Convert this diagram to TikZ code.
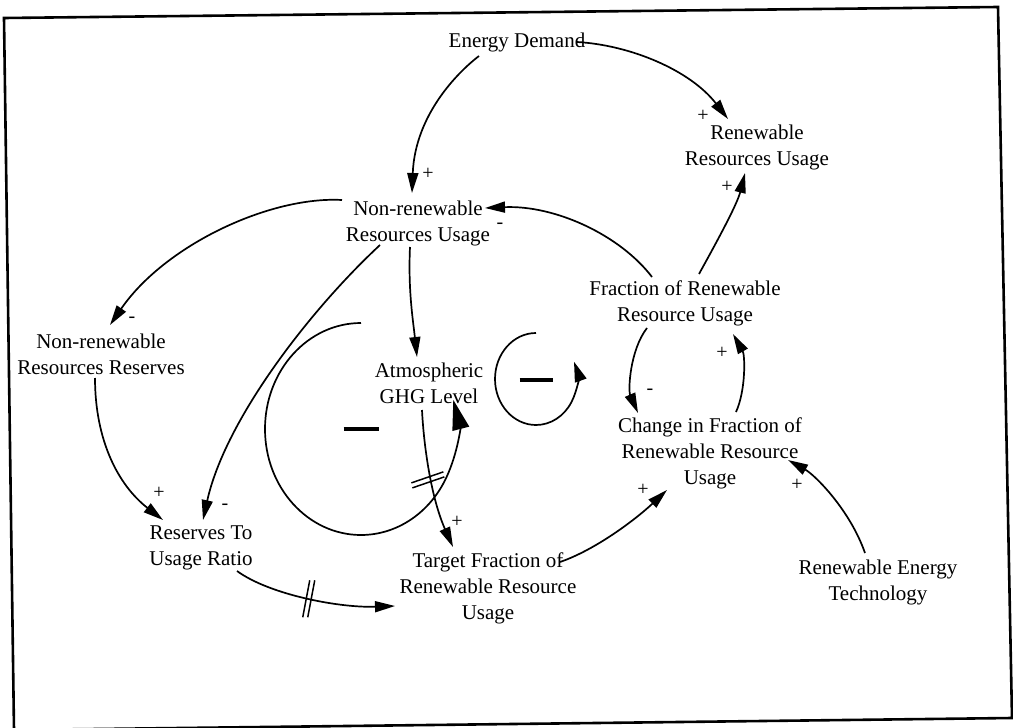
\documentclass[tikz,border=0pt]{standalone}
\usepackage{fontspec}
\setmainfont{Liberation Serif}
\usetikzlibrary{arrows.meta}

\begin{document}
\begin{tikzpicture}[x=1pt,y=-1pt,
  var/.style={align=center, font=\fontsize{21}{26}\selectfont, inner sep=1pt},
  pol/.style={font=\fontsize{20}{22}\selectfont, inner sep=0pt},
  link/.style={line width=1.7pt, -{Triangle[length=20pt,width=11pt]}},
  delaybar/.style={line width=1.5pt},
  loopline/.style={line width=1.7pt},
  loopsign/.style={inner sep=0pt}
]
\useasboundingbox (0,0) rectangle (1013,728);

% frame
\begin{scope}
  \clip (0,0) rectangle (1013,728);
  \draw[line width=2.6pt] (4,18) -- (998,7) -- (1012,718) -- (14,730) -- cycle;
\end{scope}

% variables
\node[var] (ed)  at (517,42)  {Energy Demand};
\node[var] (rru) at (757,147) {Renewable\\Resources Usage};
\node[var] (nru) at (418,223) {Non-renewable\\Resources Usage};
\node[var] (nrr) at (101,354) {Non-renewable\\Resources Reserves};
\node[var] (ghg) at (429,383) {Atmospheric\\GHG Level};
\node[var] (fru) at (685,303) {Fraction of Renewable\\Resource Usage};
\node[var] (cfr) at (710,453) {Change in Fraction of\\Renewable Resource\\Usage};
\node[var] (rtu) at (201,548) {Reserves To\\Usage Ratio};
\node[var] (tfr) at (488,588) {Target Fraction of\\Renewable Resource\\Usage};
\node[var] (ret) at (878,582) {Renewable Energy\\Technology};

% causal links
\draw[link] ([shift={(-38,14)}]ed.center) .. controls (458,72) and (415,115) .. ([shift={(-6,-30)}]nru.center);
\draw[link] ([shift={(60,0)}]ed.center) .. controls (630,45) and (690,70) .. ([shift={(-29,-28)}]rru.center);
\draw[link] ([shift={(14,-29)}]fru.center) .. controls (715,245) and (737,205) .. ([shift={(-12,26)}]rru.center);
\draw[link] ([shift={(-33,-26)}]fru.center) .. controls (620,235) and (555,205) .. ([shift={(67,-15)}]nru.center);
\draw[link] ([shift={(-76,-23)}]nru.center) .. controls (270,196) and (165,245) .. ([shift={(9,-29)}]nrr.center);
\draw[link] ([shift={(-8,24)}]nru.center) .. controls (408,290) and (413,320) .. ([shift={(-12,-26)}]ghg.center);
\draw[link] ([shift={(-38,22)}]nru.center) .. controls (310,310) and (225,420) .. ([shift={(2,-28)}]rtu.center);
\draw[link] ([shift={(-6,24)}]nrr.center) .. controls (95,440) and (118,485) .. ([shift={(-38,-28)}]rtu.center);
\draw[link] ([shift={(36,23)}]rtu.center) .. controls (270,595) and (340,608) .. coordinate[pos=0.5] (d9) ([shift={(-93,18)}]tfr.center);
\draw[link] ([shift={(-7,27)}]ghg.center) .. controls (424,450) and (432,500) .. coordinate[pos=0.5] (d10) ([shift={(-35,-41)}]tfr.center);
\draw[link] ([shift={(-38,25)}]fru.center) .. controls (630,350) and (628,390) .. ([shift={(-72,-40)}]cfr.center);
\draw[link] ([shift={(26,-41)}]cfr.center) .. controls (746,390) and (745,355) .. ([shift={(48,31)}]fru.center);
\draw[link] ([shift={(72,-26)}]tfr.center) .. controls (595,550) and (635,520) .. ([shift={(-43,37)}]cfr.center);
\draw[link] ([shift={(-13,-29)}]ret.center) .. controls (850,510) and (815,475) .. ([shift={(78,7)}]cfr.center);

% delay marks
\draw[delaybar] ([shift={(2,-18)}]d9) -- ([shift={(-5,19)}]d9);
\draw[delaybar] ([shift={(7,-18)}]d9) -- ([shift={(0,19)}]d9);
\draw[delaybar] ([shift={(-19,7)}]d10) -- ([shift={(13,-4)}]d10);
\draw[delaybar] ([shift={(-18,12)}]d10) -- ([shift={(14,1)}]d10);

% polarities
\node[pol] (p1)  at (428,174) {+};
\node[pol] (p2)  at (703,116) {+};
\node[pol] (p3)  at (727,187) {+};
\node[pol] (m4)  at (500,226) {-};
\node[pol] (m5)  at (132,320) {-};
\node[pol] (m7)  at (225,507) {-};
\node[pol] (p8)  at (159,493) {+};
\node[pol] (p10) at (457,522) {+};
\node[pol] (m13) at (650,392) {-};
\node[pol] (p14) at (722,353) {+};
\node[pol] (p15) at (643,490) {+};
\node[pol] (p16) at (797,485) {+};

% balancing loop markers
\coordinate (bigloop) at (361,429);
\coordinate (smallloop) at (536,379);
\draw[loopline, -{Triangle[length=30pt,width=17pt]}]
  ([shift={(0,-106)}]bigloop) arc[start angle=270, end angle=-16, x radius=96, y radius=106];
\draw[loopline, -{Triangle[length=20pt,width=12pt]}]
  ([shift={(0,-46)}]smallloop) arc[start angle=270, end angle=-22, x radius=41, y radius=46];
\node[loopsign] (bigsign) at (bigloop) {\rule{35pt}{3.4pt}};
\node[loopsign] (smallsign) at ([shift={(0,1)}]smallloop) {\rule{33pt}{3.4pt}};
\end{tikzpicture}
\end{document}
